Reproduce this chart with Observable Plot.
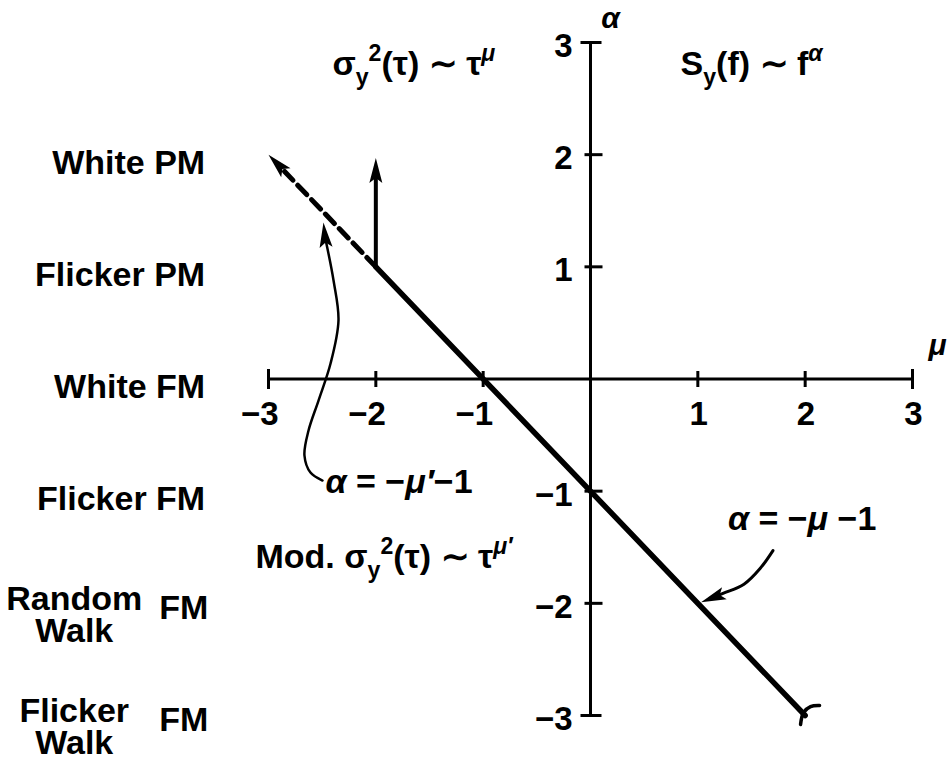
<!DOCTYPE html>
<html><head><meta charset="utf-8">
<script src="https://cdn.jsdelivr.net/npm/d3@7"></script>
<script src="https://cdn.jsdelivr.net/npm/@observablehq/plot@0.6"></script>
<style>
html,body{margin:0;padding:0;background:#fff;}
text{white-space:pre;}
</style></head><body><div id="chart"></div>
<script>
// ---- data (μ, α) ----
const muTicks = [-3, -2, -1, 1, 2, 3];
const alphaTicks = [-3, -2, -1, 1, 2, 3];
const solidLine = [[-2, 1], [2, -3]];              // α = −μ − 1
const dashedLine = [[-2, 1], [-2.85, 1.85]];       // α = −μ′ − 1 (extension)
const dashedTip = [[-3, 2]];
const verticalLine = [[-2, 1], [-2, 1.8]];
const verticalTip = [[-2, 1.97]];
const endHook = [[1.957, -3.08], [1.985, -2.973], [2.05, -2.92], [2.134, -2.911]];
const leftPointer = [[-2.497, -0.905], [-2.609, -0.834], [-2.665, -0.682], [-2.627, -0.459], [-2.534, -0.192], [-2.422, 0.138], [-2.348, 0.522], [-2.394, 0.878], [-2.47, 1.25]];
const leftPointerTip = [[-2.488, 1.395]];
const rightPointer = [[1.70, -1.53], [1.58, -1.69], [1.43, -1.83], [1.24, -1.91], [1.10, -1.965]];
const rightPointerTip = [[1.03, -1.99]];
const noiseLabels = ["White PM", "Flicker PM", "White FM", "Flicker FM"];
const noiseAlphas = [2, 1, 0, -1];
const walkLabels = ["Random\nWalk", "Flicker\nWalk"];
const walkAlphas = [-2, -3];
const annotations = [
  {mu: -2.404, alpha: 2.706, label: "σ_y^2(τ) ∼ τ^μ"},
  {mu: 0.839, alpha: 2.706, label: "S_y(f) ∼ f^α"},
  {mu: -3.121, alpha: -1.689, label: "Mod. σ_y^2(τ) ∼ τ^{μ′}"},
  {mu: -2.469, alpha: -1.012, label: "α = −μ′−1"},
  {mu: 1.28, alpha: -1.35, label: "α = −μ −1"}
];
const axisNames = [{mu: 0.1, alpha: 3.13, label: "α"}, {mu: 3.15, alpha: 0.21, label: "μ"}];

// ---- helpers ----
const fmt = d => d < 0 ? "−" + Math.abs(d) : String(d);
const lineSym = (x1, y1, x2, y2) => ({draw(c) { c.moveTo(x1, y1); c.lineTo(x2, y2); }});
const arrowHead = {draw(c) { c.moveTo(0, 0); c.lineTo(6.5, 25); c.lineTo(0, 20); c.lineTo(-6.5, 25); c.closePath(); }};
const labelMu = -3.59, blockMu = -4.81;
const FS = 34;

const chart = Plot.plot({
  width: 948, height: 761,
  marginLeft: 268, marginRight: 36, marginTop: 42, marginBottom: 46,
  x: {domain: [-3, 3], axis: null},
  y: {domain: [-3, 3], axis: null},
  style: {fontFamily: "'Liberation Sans', Arial, sans-serif", background: "white", color: "black", overflow: "visible"},
  marks: [
    // axes
    Plot.ruleY([0], {x1: -3, x2: 3, strokeWidth: 3}),
    Plot.ruleX([0], {y1: -3, y2: 3, strokeWidth: 3}),
    Plot.dot(muTicks.filter(d => Math.abs(d) < 3), {x: d => d, y: 0, symbol: lineSym(0, -8, 0, 8), fill: "none", stroke: "black", strokeWidth: 3}),
    Plot.dot(muTicks.filter(d => Math.abs(d) === 3), {x: d => d, y: 0, symbol: lineSym(0, -10, 0, 10), fill: "none", stroke: "black", strokeWidth: 3}),
    Plot.dot(alphaTicks.filter(d => Math.abs(d) < 3), {x: 0, y: d => d, symbol: lineSym(-6, 0, 12, 0), fill: "none", stroke: "black", strokeWidth: 3}),
    Plot.dot(alphaTicks.filter(d => Math.abs(d) === 3), {x: 0, y: d => d, symbol: lineSym(-10, 0, 11, 0), fill: "none", stroke: "black", strokeWidth: 3}),
    Plot.text(muTicks, {x: d => d, y: 0, text: fmt, textAnchor: "end", dx: 10, dy: 35, fontSize: 33, fontWeight: "bold"}),
    Plot.text(alphaTicks, {x: 0, y: d => d, text: fmt, textAnchor: "end", dx: -18, dy: 4, fontSize: 33, fontWeight: "bold"}),
    Plot.text(axisNames, {x: "mu", y: "alpha", text: "label", textAnchor: "start", lineAnchor: "bottom", fontSize: 30, fontWeight: "bold", fontStyle: "italic"}),
    // lines
    Plot.line(solidLine, {strokeWidth: 5.5}),
    Plot.line(dashedLine, {strokeWidth: 5, strokeDasharray: "13,7"}),
    Plot.line(verticalLine, {strokeWidth: 4}),
    Plot.line(endHook, {strokeWidth: 3.5, curve: "catmull-rom"}),
    Plot.line(leftPointer, {strokeWidth: 2.5, curve: "catmull-rom"}),
    Plot.line(rightPointer, {strokeWidth: 3, curve: "catmull-rom"}),
    // arrowheads
    Plot.dot(dashedTip, {symbol: arrowHead, rotate: -44, fill: "black", stroke: "none"}),
    Plot.dot(verticalTip, {symbol: arrowHead, rotate: 0, fill: "black", stroke: "none"}),
    Plot.dot(leftPointerTip, {symbol: arrowHead, rotate: -6, fill: "black", stroke: "none"}),
    Plot.dot(rightPointerTip, {symbol: arrowHead, rotate: -111, fill: "black", stroke: "none"}),
    // noise type labels
    Plot.text(noiseLabels, {x: labelMu, y: (d, i) => noiseAlphas[i], text: d => d, textAnchor: "end", dy: 8, fontSize: FS, fontWeight: "bold"}),
    Plot.text(walkLabels, {x: blockMu, y: (d, i) => walkAlphas[i], text: d => d, textAnchor: "middle", dy: 12, lineHeight: 0.95, fontSize: FS, fontWeight: "bold"}),
    Plot.text(walkLabels, {x: labelMu + 0.03, y: (d, i) => walkAlphas[i], text: () => "FM", textAnchor: "end", dy: 5, fontSize: FS, fontWeight: "bold"}),
    // formulas
    Plot.text(annotations, {x: "mu", y: "alpha", text: "label", textAnchor: "start", lineAnchor: "bottom", fontSize: FS, fontWeight: "bold"})
  ]
});

// rich text: _sub and ^sup, italic α μ
function richify(svg) {
  svg.querySelectorAll("text").forEach(el => {
    const s = el.textContent;
    if (!/[_^αμ]/.test(s) || el.querySelector("tspan")) return;
    el.textContent = "";
    const re = /([_^])(?:\{([^}]*)\}|(.))/g;
    const parts = []; let last = 0, m;
    while ((m = re.exec(s))) {
      if (m.index > last) parts.push({t: s.slice(last, m.index), k: 0});
      parts.push({t: m[2] ?? m[3], k: m[1] === "_" ? 1 : -1});
      last = re.lastIndex;
    }
    if (last < s.length) parts.push({t: s.slice(last), k: 0});
    let cur = 0;
    for (const p of parts) {
      const target = p.k === 1 ? 0.28 * FS : p.k === -1 ? -0.42 * FS : 0;
      const runs = p.t.split(/([αμ]′?)/).filter(r => r);
      runs.forEach((r, i) => {
        const ts = document.createElementNS("http://www.w3.org/2000/svg", "tspan");
        if (i === 0 && target !== cur) { ts.setAttribute("dy", target - cur); cur = target; }
        if (p.k) ts.setAttribute("font-size", 0.68 * FS);
        if (/^[αμ]/.test(r)) ts.setAttribute("font-style", "italic");
        ts.textContent = r;
        el.appendChild(ts);
      });
    }
  });
}
richify(chart);
document.getElementById("chart").appendChild(chart);
</script>
</body></html>
